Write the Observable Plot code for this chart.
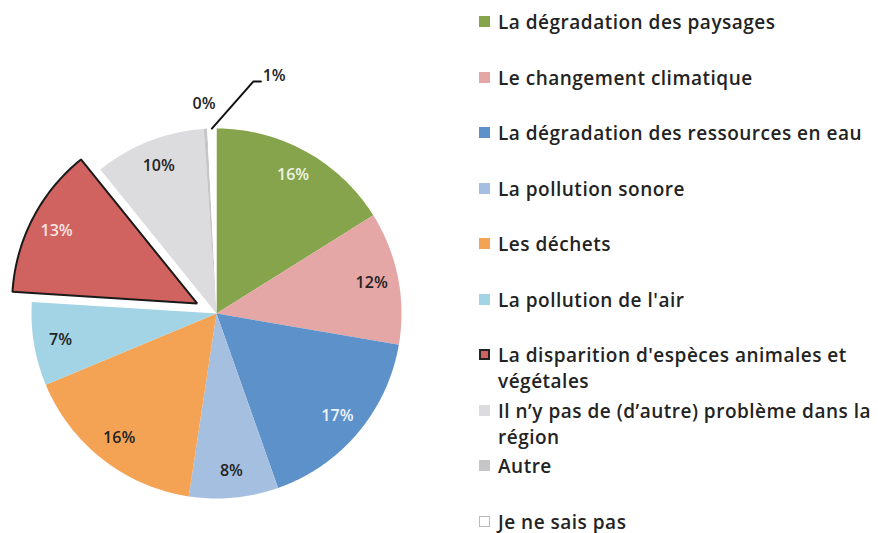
<!DOCTYPE html>
<html>
<head>
<meta charset="utf-8">
<script src="https://cdn.jsdelivr.net/npm/d3@7"></script>
<script src="https://cdn.jsdelivr.net/npm/@observablehq/plot@0.6"></script>
<style>
  html, body { margin: 0; padding: 0; background: #fff; }
  #wrap { position: relative; width: 878px; height: 533px; overflow: hidden; }
  #chart { position: absolute; left: 0; top: 0; }
  .leg { position: absolute; left: 479px; font-family: "Open Sans", Lato, sans-serif; font-weight: 600; font-size: 19px; letter-spacing: 0.5px; line-height: 26px; color: #232323; }
  .leg .sw { position: absolute; left: 0; top: 7px; width: 11px; height: 11px; box-sizing: border-box; }
  .leg .tx { position: absolute; left: 19px; top: 0; width: 378px; white-space: normal; }
</style>
</head>
<body>
<div id="wrap">
  <div id="chart"></div>
  <div id="legend"></div>
</div>
<script>
// ---- data ----
const categories = [
  "La dégradation des paysages",
  "Le changement climatique",
  "La dégradation des ressources en eau",
  "La pollution sonore",
  "Les déchets",
  "La pollution de l'air",
  "La disparition d'espèces animales et végétales",
  "Il n’y pas de (d’autre) problème dans la région",
  "Autre",
  "Je ne sais pas"
];
const values = [16.1, 11.6, 16.9, 7.8, 16.3, 7.3, 13.2, 9.7, 0.3, 0.8];
const sliceColors = ["#86a44b", "#e4a7a6", "#5d91ca", "#a5bfe0", "#f4a355", "#a2d4e5", "#d0635f", "#dcdcdf", "#c6c6c9", "#ffffff"];
const labelColors = ["#eef3e4", "#232323", "#eef4fb", "#232323", "#232323", "#232323", "#fbe4e3", "#232323", "#232323", "#232323"];
const explodedIndex = 6;

// ---- geometry ----
const pie = d3.pie().sort(null).value(d => d)(values);
const explode = 0.118; // offset of the pulled-out slice, in radius units
const labelR = 0.855;

const slicePts = [];
const labels = [];
pie.forEach((p, i) => {
  const mid = (p.startAngle + p.endAngle) / 2;
  const off = i === explodedIndex ? explode : 0;
  const cx = Math.sin(mid) * off, cy = Math.cos(mid) * off;
  slicePts.push({key: i, x: cx, y: cy, fill: sliceColors[i]});
  const n = Math.max(2, Math.ceil((p.endAngle - p.startAngle) / (Math.PI / 180)));
  for (let k = 0; k <= n; k++) {
    const a = p.startAngle + (p.endAngle - p.startAngle) * k / n;
    slicePts.push({key: i, x: cx + Math.sin(a), y: cy + Math.cos(a), fill: sliceColors[i]});
  }
  const text = Math.round(values[i]) + "%";
  if (i === 8) {
    labels.push({x: Math.sin(mid) * 1.135, y: Math.cos(mid) * 1.135, text, fill: labelColors[i]});
  } else if (i !== 9) {
    labels.push({x: cx + Math.sin(mid) * labelR, y: cy + Math.cos(mid) * labelR, text, fill: labelColors[i]});
  }
});

// leader line for the last (tiny) slice
const lastP = pie[9];
const lastMid = (lastP.startAngle + lastP.endAngle) / 2;
const lx0 = Math.sin(lastMid) * 1.0, ly0 = Math.cos(lastMid) * 1.0;
const leader = [
  {x: lx0, y: ly0},
  {x: lx0 + 0.225, y: ly0 + 0.255},
  {x: lx0 + 0.265, y: ly0 + 0.255}
];
const lastLabel = [{x: lx0 + 0.275, y: ly0 + 0.285, text: Math.round(values[9]) + "%", fill: labelColors[9]}];

const explodedPts = slicePts.filter(d => d.key === explodedIndex);

const fontFamily = "'Open Sans', Lato, sans-serif";

const chart = Plot.plot({
  width: 470,
  height: 533,
  margin: 0,
  x: {domain: [-1, 1], range: [31, 401], axis: null},
  y: {domain: [-1, 1], range: [498, 128], axis: null},
  marks: [
    Plot.line(slicePts, {x: "x", y: "y", z: "key", fill: "fill", stroke: "none", curve: "linear-closed"}),
    Plot.line(explodedPts, {x: "x", y: "y", fill: "none", stroke: "#1a1a1a", strokeWidth: 2, strokeLinejoin: "miter", curve: "linear-closed"}),
    Plot.line(leader, {x: "x", y: "y", stroke: "#111", strokeWidth: 2}),
    Plot.text(labels, {x: "x", y: "y", text: "text", fill: "fill", fontSize: 16, fontWeight: 600, fontFamily}),
    Plot.text(lastLabel, {x: "x", y: "y", text: "text", fill: "fill", fontSize: 16, fontWeight: 600, fontFamily, textAnchor: "start"})
  ]
});
document.getElementById("chart").appendChild(chart);

// ---- legend ----
const legendTops = [9, 64.5, 120, 175.5, 231, 286.5, 342, 397.5, 453, 508.5];
const legend = d3.select("#legend");
categories.forEach((c, i) => {
  const item = legend.append("div").attr("class", "leg").style("top", legendTops[i] + "px");
  const sw = item.append("div").attr("class", "sw").style("background", sliceColors[i]);
  if (i === explodedIndex) sw.style("border", "2px solid #222");
  if (i === 9) sw.style("border", "1px solid #bbb");
  item.append("div").attr("class", "tx").text(c);
});
</script>
</body>
</html>
